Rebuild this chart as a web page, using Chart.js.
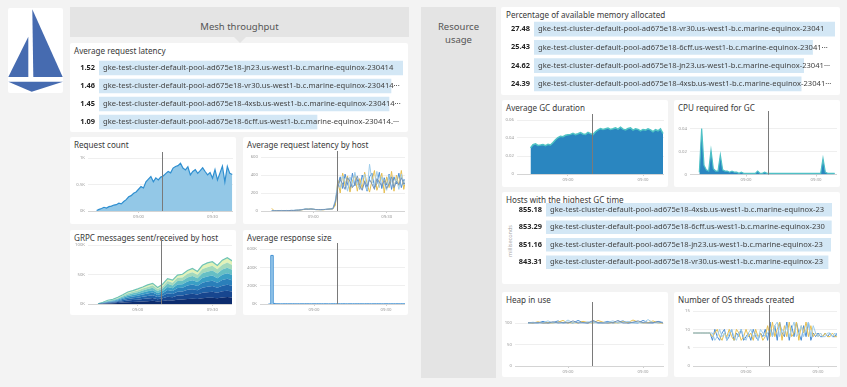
<!DOCTYPE html>
<html>
<head>
<meta charset="utf-8">
<script src="https://cdn.jsdelivr.net/npm/chart.js@4/dist/chart.umd.min.js"></script>
<style>
  body { margin: 0; width: 847px; height: 387px; background: #f3f3f3; position: relative; overflow: hidden; font-family: "Noto Sans", sans-serif; }
  .card { position: absolute; background: #fff; border-radius: 2px; }
  .title { position: absolute; font-size: 8.1px; line-height: 11px; color: #3a3a3a; white-space: nowrap; }
  .hdr { position: absolute; background: #e4e4e4; color: #555; font-size: 9.5px; text-align: center; }
  canvas { position: absolute; }
</style>
</head>
<body>

<div class="card" style="left:8px;top:8px;width:55px;height:85px;">
  <svg width="55" height="85" viewBox="0 0 55 85">
    <polygon points="24.3,1.3 54.7,69 25.3,69" fill="#466bb0"/>
    <polygon points="20.3,28.7 0.3,69 20.3,69" fill="#466bb0"/>
    <polygon points="0.3,73.7 55,73.7 23.7,83.7" fill="#466bb0"/>
  </svg>
</div>

<div class="hdr" style="left:70px;top:7px;width:339px;height:30px;">
  <div style="position:absolute;left:0;right:0;top:13.5px;line-height:11px;">Mesh throughput</div>
</div>
<div style="position:absolute;left:234px;top:37px;width:0;height:0;border-left:6px solid transparent;border-right:6px solid transparent;border-top:6px solid #e4e4e4;"></div>

<div class="hdr" style="left:421px;top:7px;width:75px;height:371px;">
  <div style="position:absolute;left:0;right:0;top:12.5px;line-height:13px;">Resource<br>usage</div>
</div>

<div class="card" style="left:70px;top:43px;width:338px;height:89px;"></div>
<div class="title" style="left:74px;top:45px;">Average request latency</div>
<div class="card" style="left:70px;top:137px;width:166px;height:87px;"></div>
<div class="title" style="left:74px;top:139px;">Request count</div>
<div class="card" style="left:243px;top:137px;width:165px;height:87px;"></div>
<div class="title" style="left:247px;top:139px;">Average request latency by host</div>
<div class="card" style="left:70px;top:230px;width:166px;height:85px;"></div>
<div class="title" style="left:74px;top:232px;">GRPC messages sent/received by host</div>
<div class="card" style="left:243px;top:230px;width:165px;height:85px;"></div>
<div class="title" style="left:247px;top:232px;">Average response size</div>

<div class="card" style="left:501px;top:7px;width:339px;height:88px;"></div>
<div class="title" style="left:506px;top:9px;">Percentage of available memory allocated</div>
<div class="card" style="left:502px;top:100px;width:166px;height:87px;"></div>
<div class="title" style="left:506px;top:102px;">Average GC duration</div>
<div class="card" style="left:674px;top:100px;width:166px;height:87px;"></div>
<div class="title" style="left:678px;top:102px;">CPU required for GC</div>
<div class="card" style="left:502px;top:192px;width:338px;height:92px;"></div>
<div class="title" style="left:506px;top:194px;">Hosts with the highest GC time</div>
<div style="position:absolute;left:480px;top:237px;width:60px;text-align:center;font-size:5.5px;line-height:8px;color:#aaa;transform:rotate(-90deg);">milliseconds</div>
<div class="card" style="left:502px;top:292px;width:166px;height:85px;"></div>
<div class="title" style="left:506px;top:294px;">Heap in use</div>
<div class="card" style="left:674px;top:292px;width:166px;height:85px;"></div>
<div class="title" style="left:678px;top:294px;">Number of OS threads created</div>

<canvas id="tlLatency"></canvas>
<canvas id="cReq"></canvas>
<canvas id="cLatHost"></canvas>
<canvas id="cGrpc"></canvas>
<canvas id="cResp"></canvas>
<canvas id="tlMem"></canvas>
<canvas id="cGcDur"></canvas>
<canvas id="cCpu"></canvas>
<canvas id="tlGc"></canvas>
<canvas id="cHeap"></canvas>
<canvas id="cThreads"></canvas>

<script>
// times are minutes after midnight (540 = 09:00)
const timeTicks = [540, 570];
const markerTime = 549.5;

// toplists
const latencyValues = [1.52, 1.46, 1.45, 1.09];
const latencyHosts = [
  'gke-test-cluster-default-pool-ad675e18-jn23.us-west1-b.c.marine-equinox-230414',
  'gke-test-cluster-default-pool-ad675e18-vr30.us-west1-b.c.marine-equinox-230414\u00b7\u00b7\u00b7',
  'gke-test-cluster-default-pool-ad675e18-4xsb.us-west1-b.c.marine-equinox-230414\u00b7\u00b7\u00b7',
  'gke-test-cluster-default-pool-ad675e18-6cff.us-west1-b.c.marine-equinox-230414.\u00b7\u00b7\u00b7'
];
const memValues = [27.48, 25.43, 24.62, 24.39];
const memHosts = [
  'gke-test-cluster-default-pool-ad675e18-vr30.us-west1-b.c.marine-equinox-23041',
  'gke-test-cluster-default-pool-ad675e18-6cff.us-west1-b.c.marine-equinox-23041\u00b7\u00b7\u00b7',
  'gke-test-cluster-default-pool-ad675e18-jn23.us-west1-b.c.marine-equinox-23041\u00b7\u00b7\u00b7',
  'gke-test-cluster-default-pool-ad675e18-4xsb.us-west1-b.c.marine-equinox-23041\u00b7\u00b7\u00b7'
];
const gcValues = [855.18, 853.29, 851.16, 843.31];
const gcHosts = [
  'gke-test-cluster-default-pool-ad675e18-4xsb.us-west1-b.c.marine-equinox-23',
  'gke-test-cluster-default-pool-ad675e18-6cff.us-west1-b.c.marine-equinox-230',
  'gke-test-cluster-default-pool-ad675e18-jn23.us-west1-b.c.marine-equinox-23',
  'gke-test-cluster-default-pool-ad675e18-vr30.us-west1-b.c.marine-equinox-23'
];

// request count, one point a minute from 08:43
const reqStart = 523;
const reqCount = [10, 30, 48, 70, 55, 82, 92, 112, 120, 148, 135, 178, 215, 268, 290, 335, 360, 410, 460, 435,
  550, 600, 650, 550, 625, 585, 640, 660, 705, 745, 720, 810, 840, 855, 900, 810, 775, 835, 680, 745,
  780, 710, 760, 815, 745, 680, 725, 620, 780, 585, 715, 845, 550, 840, 710, 690];

// latency by host, one point a minute from 08:43
const latStart = 523;
const latBlue = [4, 3, 5, 3, 6, 4, 6, 5, 7, 6, 8, 10, 14, 18, 22, 20, 24, 18, 15, 17, 14, 16, 18, 20, 22, 25, 80, 290, 380, 250,
  410, 300, 230, 420, 280, 350, 240, 400, 310, 220, 380, 420, 260, 300, 430, 250, 370, 290, 410, 240, 380, 300, 420, 260, 350, 330];
const latYellow = [30, 2, 3, 4, 2, 5, 3, 4, 6, 5, 7, 9, 12, 16, 20, 24, 21, 19, 16, 14, 15, 13, 17, 19, 21, 24, 60, 340, 200, 420,
  280, 390, 210, 330, 400, 220, 360, 250, 430, 300, 210, 340, 450, 230, 310, 420, 200, 380, 260, 440, 220, 400, 280, 450, 240, 390];
const latLight = [3, 4, 2, 5, 4, 3, 5, 6, 5, 7, 9, 11, 15, 19, 25, 22, 20, 23, 17, 16, 14, 18, 16, 21, 23, 28, 120, 310, 260, 390,
  330, 220, 380, 270, 430, 300, 250, 350, 410, 230, 520, 330, 290, 440, 260, 380, 310, 230, 400, 330, 270, 360, 240, 410, 290, 360];
const latSlate = [2, 3, 3, 4, 3, 4, 4, 5, 6, 6, 8, 9, 13, 17, 21, 19, 22, 20, 16, 15, 16, 15, 18, 20, 23, 26, 100, 260, 350, 300,
  240, 370, 330, 260, 300, 390, 280, 230, 330, 270, 350, 300, 240, 360, 320, 280, 340, 250, 300, 380, 260, 330, 290, 370, 300, 320];

// GRPC messages (K), stacked layers bottom to top, one point every 2 minutes from 08:44
const grpcStart = 524;
const grpcL1 = [0.1, 0.45, 0.9, 1.2, 1.65, 2.4, 3.0, 3.5, 3.8, 4.4, 4.8, 5.3, 4.2, 5.0, 6.5, 6.0, 7.4, 7.5, 8.6, 9.0, 8.3, 9.9, 10.4, 10.8, 9.8, 11.1, 11.7, 11.0];
const grpcL2 = [0.1, 0.42, 0.84, 1.1, 1.54, 2.2, 2.8, 3.2, 3.5, 4.1, 4.5, 4.9, 3.9, 4.6, 6.0, 5.6, 6.9, 7.0, 8.0, 8.4, 7.7, 9.2, 9.7, 10.1, 9.1, 10.4, 10.9, 10.2];
const grpcL3 = [0.1, 0.39, 0.78, 1.0, 1.43, 2.1, 2.6, 3.0, 3.3, 3.8, 4.2, 4.6, 3.6, 4.3, 5.6, 5.2, 6.4, 6.5, 7.4, 7.8, 7.2, 8.6, 9.0, 9.4, 8.5, 9.6, 10.1, 9.5];
const grpcL4 = [0.05, 0.35, 0.8, 0.95, 1.5, 2.0, 2.7, 2.9, 3.4, 3.7, 4.3, 4.5, 3.7, 4.2, 5.7, 5.1, 6.5, 6.4, 7.5, 7.7, 7.3, 8.5, 9.1, 9.3, 8.6, 9.5, 10.2, 9.4];
const grpcL5 = [0.05, 0.36, 0.72, 1.0, 1.32, 1.9, 2.4, 2.8, 3.0, 3.5, 3.8, 4.2, 3.4, 4.0, 5.2, 4.8, 5.9, 6.0, 6.8, 7.2, 6.6, 7.9, 8.3, 8.6, 7.8, 8.9, 9.4, 8.8];
const grpcL6 = [0.05, 0.38, 0.7, 1.05, 1.3, 1.95, 2.35, 2.85, 2.95, 3.55, 3.75, 4.25, 3.35, 4.05, 5.15, 4.85, 5.85, 6.05, 6.75, 7.25, 6.55, 7.95, 8.25, 8.65, 7.75, 8.95, 9.35, 8.85];
const grpcL7 = [0.03, 0.33, 0.66, 0.9, 1.21, 1.8, 2.2, 2.5, 2.8, 3.2, 3.5, 3.9, 3.1, 3.6, 4.7, 4.4, 5.4, 5.5, 6.3, 6.6, 6.1, 7.3, 7.6, 7.9, 7.2, 8.1, 8.6, 8.0];
const grpcL8 = [0.02, 0.3, 0.9, 0.6, 1.4, 1.3, 2.4, 2.0, 2.8, 2.6, 3.6, 3.3, 2.8, 3.7, 4.0, 4.6, 4.6, 5.4, 5.4, 6.4, 5.5, 6.2, 7.3, 7.0, 6.5, 7.8, 8.2, 7.3];

// average response size (K), one point a minute from 08:41
const respStart = 521;
const respSize = [0, 530, 6, 2.5, 2.2, 1.8, 2.1, 2.4, 1.9, 2.0, 2.3, 1.7, 2.2, 2.0, 1.9, 2.4, 2.1, 1.8, 2.0, 2.2, 2.5,
  1.9, 2.1, 2.3, 2.0, 1.8, 2.2, 2.4, 2.0, 1.9, 2.1, 2.3, 1.8, 2.0, 2.2, 2.1, 1.9, 2.4, 2.0, 1.8, 2.3,
  2.1, 2.0, 1.9, 2.2, 2.4, 2.0, 1.8, 2.1, 2.3, 1.9, 2.0, 2.2, 2.1, 1.8, 2.4, 2.0, 2.1];

// average GC duration, one point a minute from 08:45
const gcDurStart = 525;
const gcDur = [0.029, 0.0325, 0.0335, 0.0318, 0.0322, 0.0328, 0.0315, 0.033, 0.0322, 0.035,
  0.038, 0.0405, 0.042, 0.0415, 0.043, 0.0435, 0.044, 0.0452, 0.0438, 0.0448,
  0.046, 0.0445, 0.044, 0.0462, 0.0448, 0.0438, 0.047, 0.049, 0.0505, 0.0495,
  0.0502, 0.051, 0.0495, 0.0503, 0.0512, 0.0498, 0.052, 0.0498, 0.049, 0.0505,
  0.0512, 0.0488, 0.0502, 0.0496, 0.048, 0.0495, 0.0488, 0.0502, 0.049, 0.047,
  0.0492, 0.048, 0.0502, 0.045];

// CPU required for GC, one point a minute from 08:40
const cpuStart = 520;
const cpuGc = [0.002, 0.040, 0.008, 0.004, 0.003, 0.021, 0.005, 0.003, 0.003, 0.017,
  0.004, 0.003, 0.003, 0.002, 0.003, 0.002, 0.002, 0.001, 0.002, 0.001,
  0.001, 0.001, 0.001, 0.001, 0.001, 0.003, 0.001, 0.001, 0.002, 0.001,
  0.001, 0.001, 0.001, 0.001, 0.001, 0.001, 0.001, 0.001, 0.001, 0.001,
  0.001, 0.001, 0.001, 0.001, 0.001, 0.001, 0.001, 0.001, 0.001, 0.001,
  0.001, 0.001, 0.001, 0.014, 0.002, 0.001, 0.001, 0.001, 0.001];

// heap in use, one point every 2 minutes from 08:44
const heapStart = 524;
const heapBlue = [100, 101, 100, 104, 100, 101, 105, 100, 102, 100, 106, 101, 100, 103, 100, 101, 104, 100, 102, 105, 100, 101, 100, 106, 101, 100, 104, 101];
const heapYellow = [101, 100, 103, 100, 101, 100, 102, 106, 100, 101, 100, 104, 101, 100, 106, 102, 100, 101, 100, 103, 101, 107, 102, 100, 101, 105, 100, 100];
const heapLight = [100, 102, 100, 101, 105, 100, 101, 100, 107, 100, 102, 100, 103, 100, 101, 100, 102, 105, 100, 101, 104, 100, 101, 100, 108, 101, 100, 102];
const heapSlate = [101, 100, 101, 100, 100, 103, 100, 101, 100, 105, 100, 101, 100, 106, 101, 100, 100, 101, 106, 100, 100, 102, 105, 101, 100, 101, 103, 100];

// OS threads, one point a minute from 08:38
const thrStart = 518;
const thrBlue = [9, 9, 9, 9, 9, 9, 9, 9, 7, 10, 8, 7, 9, 10, 7, 8, 10, 7, 9, 8, 10, 7, 8, 9, 7, 10, 8, 7, 9, 8,
  10, 7, 12, 8, 11, 7, 12, 9, 8, 12, 7, 11, 8, 12, 9, 7, 11, 8, 12, 7, 9, 8, 9, 8, 8, 9, 8, 9, 8, 8, 9];
const thrYellow = [9, 9, 9, 9, 9, 9, 9, 9, 8, 9, 10, 8, 7, 9, 8, 10, 8, 7, 10, 9, 7, 8, 10, 8, 9, 7, 10, 8, 9, 7,
  8, 11, 8, 12, 8, 10, 12, 7, 11, 8, 12, 8, 9, 12, 7, 11, 9, 12, 8, 11, 8, 9, 8, 9, 8, 9, 8, 8, 9, 8, 8];
const thrLight = [9, 9, 9, 9, 9, 9, 9, 9, 9, 7, 8, 10, 8, 9, 7, 9, 10, 8, 7, 9, 10, 8, 7, 9, 10, 8, 9, 7, 10, 9,
  8, 9, 10, 8, 11, 12, 8, 10, 9, 11, 8, 10, 12, 8, 9, 11, 8, 10, 12, 8, 11, 9, 8, 9, 8, 8, 9, 9, 8, 9, 8];

Chart.defaults.font.family = '"Noto Sans", sans-serif';

const BLUE = '#4a8dd3', YELLOW = '#e6bf52', LIGHT = '#9fcdeb', SLATE = '#7493b6';

function series(start, step, values) {
  return values.map((v, i) => ({ x: start + i * step, y: v }));
}
function clock(m) {
  const h = Math.floor(m / 60), mm = Math.round(m % 60);
  return String(h).padStart(2, '0') + ':' + String(mm).padStart(2, '0');
}
function line(data, color) {
  return { data, borderColor: color, borderWidth: 1, fill: false };
}

const markerLine = {
  id: 'marker',
  afterDatasetsDraw(chart) {
    const { ctx, chartArea, scales } = chart;
    const x = Math.round(scales.x.getPixelForValue(markerTime)) + 0.5;
    ctx.save();
    ctx.strokeStyle = '#7a7a7a';
    ctx.lineWidth = 1;
    ctx.beginPath();
    ctx.moveTo(x, chartArea.top - 6);
    ctx.lineTo(x, chartArea.bottom);
    ctx.stroke();
    ctx.restore();
  }
};

function timeChart(id, card, plot, xr, yr, datasets, stacked) {
  const cv = document.getElementById(id);
  const top = plot.t - 8;
  cv.style.left = card.l + 'px';
  cv.style.top = top + 'px';
  cv.width = card.w;
  cv.height = card.t + card.h - top;
  new Chart(cv, {
    type: 'line',
    data: { datasets },
    options: {
      responsive: false,
      animation: false,
      devicePixelRatio: 1,
      layout: { padding: { left: 0, top: plot.t - top, right: card.l + card.w - plot.r, bottom: 0 } },
      plugins: { legend: { display: false }, tooltip: { enabled: false } },
      elements: { point: { radius: 0 }, line: { tension: 0 } },
      scales: {
        x: {
          type: 'linear', min: xr[0], max: xr[1],
          afterBuildTicks: s => { s.ticks = timeTicks.map(v => ({ value: v })); },
          afterFit: s => { s.height = cv.height - (plot.b - top); },
          ticks: { callback: v => clock(v), font: { size: 4.3 }, color: '#999', padding: 1, maxRotation: 0, autoSkip: false },
          grid: { display: true, drawOnChartArea: false, drawTicks: true, tickLength: 2, color: '#cfcfcf' },
          border: { display: false }
        },
        y: {
          min: 0, max: yr.max, stacked: !!stacked,
          afterBuildTicks: s => { s.ticks = yr.ticks.map(v => ({ value: v })); },
          afterFit: s => { s.width = plot.l - card.l; },
          ticks: { callback: yr.fmt, font: { size: 4.3 }, color: '#999', padding: 3 },
          grid: { drawTicks: false, color: c => (c.tick && c.tick.value === 0) ? '#d4d4d4' : '#efefef' },
          border: { display: false }
        }
      }
    },
    plugins: [markerLine]
  });
}

function topList(id, card, rows, values, names, barLeft, barRight, thick) {
  const cv = document.getElementById(id);
  cv.style.left = card.l + 'px';
  cv.style.top = rows.top + 'px';
  cv.width = card.w;
  cv.height = rows.h;
  new Chart(cv, {
    type: 'bar',
    data: { labels: names, datasets: [{ data: values, backgroundColor: '#d3e7f5', barThickness: thick, borderWidth: 0 }] },
    options: {
      indexAxis: 'y',
      responsive: false,
      animation: false,
      devicePixelRatio: 1,
      layout: { padding: { left: barLeft - card.l, right: card.l + card.w - barRight, top: 0, bottom: 0 } },
      plugins: { legend: { display: false }, tooltip: { enabled: false } },
      scales: { x: { display: false, min: 0, max: values[0] }, y: { display: false } }
    },
    plugins: [{
      id: 'toplistText',
      afterDatasetsDraw(chart) {
        const ctx = chart.ctx;
        const meta = chart.getDatasetMeta(0);
        ctx.save();
        ctx.beginPath();
        ctx.rect(0, 0, cv.width - 3, cv.height);
        ctx.clip();
        ctx.textBaseline = 'middle';
        meta.data.forEach((bar, i) => {
          ctx.font = 'bold 7.4px "Noto Sans"';
          ctx.fillStyle = '#222';
          ctx.textAlign = 'right';
          ctx.fillText(values[i].toFixed(2), chart.chartArea.left - 4, bar.y);
          ctx.font = '7.6px "Noto Sans"';
          ctx.fillStyle = '#444';
          ctx.textAlign = 'left';
          ctx.fillText(names[i], chart.chartArea.left + 4, bar.y);
        });
        ctx.restore();
      }
    }]
  });
}

const fmtK = v => v + 'K';
const fmtDec = v => v === 0 ? '0' : v.toFixed(2);

topList('tlLatency', { l: 70, t: 43, w: 338, h: 89 }, { top: 59, h: 72 }, latencyValues, latencyHosts, 99, 403, 14);
topList('tlMem', { l: 501, t: 7, w: 339, h: 88 }, { top: 20, h: 73 }, memValues, memHosts, 534, 835, 14);
topList('tlGc', { l: 502, t: 192, w: 338, h: 92 }, { top: 201, h: 70 }, gcValues, gcHosts, 546, 832, 13);

timeChart('cReq', { l: 70, t: 137, w: 166, h: 87 }, { l: 88, r: 233, t: 158, b: 211 }, [519.5, 578.3],
  { max: 1000, ticks: [0, 500, 1000], fmt: v => (v / 1000) + 'K' },
  [{ data: series(reqStart, 1, reqCount), borderColor: '#2f8fd0', backgroundColor: '#93c8e7', borderWidth: 1.2, fill: 'origin' }]);

timeChart('cLatHost', { l: 243, t: 137, w: 165, h: 87 }, { l: 261, r: 405, t: 157, b: 211 }, [518.6, 577.5],
  { max: 600, ticks: [0, 200, 400, 600], fmt: v => String(v) },
  [line(series(latStart, 1, latSlate), SLATE), line(series(latStart, 1, latLight), LIGHT),
   line(series(latStart, 1, latYellow), YELLOW), line(series(latStart, 1, latBlue), BLUE)]);

const grpcLayers = [grpcL1, grpcL2, grpcL3, grpcL4, grpcL5, grpcL6, grpcL7, grpcL8];
const grpcColors = ['#0c2c6e', '#17468f', '#1f62a8', '#2a7fba', '#3a9fc5', '#66bfc4', '#a3d9bc', '#e2f2b8'];
timeChart('cGrpc', { l: 70, t: 230, w: 166, h: 85 }, { l: 88, r: 232, t: 245, b: 304 }, [520, 577.9],
  { max: 100, ticks: [0, 50, 100], fmt: fmtK },
  grpcLayers.map((layer, i) => ({
    data: series(grpcStart, 2, layer),
    backgroundColor: grpcColors[i],
    borderColor: i === grpcLayers.length - 1 ? '#6fc3b6' : grpcColors[i],
    borderWidth: i === grpcLayers.length - 1 ? 1.2 : 0,
    fill: i === 0 ? 'origin' : '-1'
  })), true);

timeChart('cResp', { l: 243, t: 230, w: 165, h: 85 }, { l: 260, r: 405, t: 249, b: 304 }, [517.5, 577.9],
  { max: 600, ticks: [0, 200, 400, 600], fmt: fmtK },
  [{ data: series(respStart, 1, respSize), borderColor: '#3f8fd2', backgroundColor: '#a8d2ee', borderWidth: 1, fill: 'origin', stepped: true }]);

timeChart('cGcDur', { l: 502, t: 100, w: 166, h: 87 }, { l: 517, r: 664, t: 120, b: 174 }, [519.6, 578.4],
  { max: 0.06, ticks: [0, 0.02, 0.04, 0.06], fmt: fmtDec },
  [{ data: series(gcDurStart, 1, gcDur), borderColor: '#4fc3c3', backgroundColor: '#2a86c0', borderWidth: 1.5, fill: 'origin' }]);

timeChart('cCpu', { l: 674, t: 100, w: 166, h: 87 }, { l: 690, r: 837, t: 116.5, b: 174 }, [516, 579],
  { max: 0.05, ticks: [0, 0.02, 0.04], fmt: fmtDec },
  [{ data: series(cpuStart, 1, cpuGc), borderColor: '#4fc1c6', backgroundColor: '#2a86c0', borderWidth: 1.2, fill: 'origin' }]);

timeChart('cHeap', { l: 502, t: 292, w: 166, h: 85 }, { l: 515, r: 664, t: 308, b: 366 }, [518.8, 578.4],
  { max: 135, ticks: [0, 50, 100], fmt: v => String(v) },
  [line(series(heapStart, 2, heapSlate), SLATE), line(series(heapStart, 2, heapLight), LIGHT),
   line(series(heapStart, 2, heapYellow), YELLOW), line(series(heapStart, 2, heapBlue), BLUE)]);

timeChart('cThreads', { l: 674, t: 292, w: 166, h: 85 }, { l: 693, r: 837, t: 311, b: 366 }, [517.9, 577.9],
  { max: 15, ticks: [0, 5, 10, 15], fmt: v => String(v) },
  [line(series(thrStart, 1, thrLight), LIGHT), line(series(thrStart, 1, thrYellow), YELLOW),
   line(series(thrStart, 1, thrBlue), BLUE)]);
</script>
</body>
</html>
